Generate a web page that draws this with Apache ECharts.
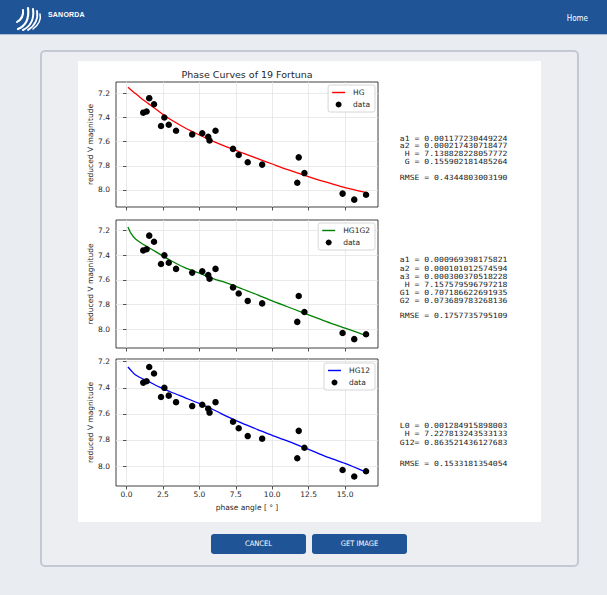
<!DOCTYPE html>
<html>
<head>
<meta charset="utf-8">
<script src="https://cdn.jsdelivr.net/npm/echarts@6.0.0/dist/echarts.min.js"></script>
<style>
  html, body { margin:0; padding:0; width:607px; height:595px; overflow:hidden; background:#e9ecf0; font-family:"DejaVu Sans", sans-serif; }
  #nav { position:absolute; left:0; top:0; width:607px; height:34px; background:#1f5597; border-bottom:1px solid #a9bcd6; }
  #brand { position:absolute; left:48px; top:11px; color:#fff; font:bold 7px "Liberation Sans", sans-serif; letter-spacing:0.2px; }
  #home { position:absolute; right:19px; top:14px; color:#fff; font:8px "DejaVu Sans Condensed", "DejaVu Sans", sans-serif; }
  #card { position:absolute; left:40px; top:50px; width:535px; height:513px; border:2px solid #c3c9d2; border-radius:5px; background:#eceef2; }
  #panel { position:absolute; left:78px; top:61px; width:463px; height:461px; background:#fff; }
  .btn { position:absolute; top:534px; height:20px; background:#1f5597; border-radius:3px; color:#fff;
         font:7.5px "DejaVu Sans Condensed", "DejaVu Sans", sans-serif; text-align:center; line-height:20px; }
  #chart { position:absolute; left:0; top:0; width:607px; height:595px; }
</style>
</head>
<body>
<div id="nav">
  <svg style="position:absolute;left:14px;top:4px" width="30" height="28" viewBox="0 0 30 28">
    <g fill="none" stroke="#fff" stroke-linecap="round">
      <path d="M4 25 Q16 20 14 4" stroke-width="2.2"/>
      <path d="M9 26 Q21 20 19 5" stroke-width="2"/>
      <path d="M14 26 Q25 19 23 7" stroke-width="1.8"/>
      <path d="M19 25 Q28 18 26 10" stroke-width="1.5"/>
      <path d="M3 18 Q10 14 9 6" stroke-width="2"/>
    </g>
  </svg>
  <div id="brand">SANORDA</div>
  <div id="home">Home</div>
</div>
<div id="card"></div>
<div id="panel"></div>
<div class="btn" style="left:211px;width:95px;">CANCEL</div>
<div class="btn" style="left:312px;width:95px;">GET IMAGE</div>
<div id="chart"></div>
<script>
// ---- data ----
const phaseAngle = [1.15, 1.38, 1.56, 1.89, 2.37, 2.60, 2.90, 3.40, 4.51, 5.20, 5.61, 5.70, 6.11, 7.31, 7.70, 8.32, 9.31, 11.72, 11.82, 12.21, 14.83, 15.63, 16.44];
const reducedMag = [7.36, 7.35, 7.24, 7.29, 7.47, 7.40, 7.46, 7.51, 7.54, 7.53, 7.56, 7.59, 7.51, 7.66, 7.71, 7.77, 7.79, 7.94, 7.73, 7.86, 8.03, 8.08, 8.04];

const hgX = [0.1, 0.5, 1, 1.5, 2, 2.5, 3, 4, 5, 6, 7, 8, 9, 10, 11, 12, 13, 14, 15, 16.4];
const hgY = [7.15, 7.19, 7.24, 7.285, 7.33, 7.375, 7.415, 7.485, 7.545, 7.60, 7.65, 7.695, 7.74, 7.785, 7.83, 7.87, 7.91, 7.945, 7.98, 8.02];

const hg1g2X = [0.1, 0.3, 0.6, 1, 1.5, 2, 3, 4, 5, 6, 7, 8, 9, 10, 11, 12, 13, 14, 15, 16.4];
const hg1g2Y = [7.17, 7.22, 7.265, 7.30, 7.335, 7.37, 7.44, 7.50, 7.545, 7.59, 7.63, 7.675, 7.72, 7.77, 7.815, 7.86, 7.905, 7.95, 7.99, 8.05];

const hg12X = [0.1, 0.3, 0.6, 1, 1.5, 2, 2.5, 3, 4, 5, 6, 7, 8, 9, 10, 11, 12, 13, 14, 15, 16.4];
const hg12Y = [7.24, 7.265, 7.30, 7.325, 7.35, 7.38, 7.405, 7.43, 7.475, 7.52, 7.57, 7.625, 7.675, 7.72, 7.765, 7.805, 7.85, 7.895, 7.94, 7.98, 8.045];

const xTicks = [0, 2.5, 5, 7.5, 10, 12.5, 15];
const yTicks = [7.2, 7.4, 7.6, 7.8, 8.0];

const modelNames = ['HG', 'HG1G2', 'HG12'];
const modelColors = ['#ff0000', '#008000', '#0000ff'];

const titleText = 'Phase Curves of 19 Fortuna';
const yName = 'reduced V magnitude';
const xName = 'phase angle [ ° ]';

const paramsHG = ['a1 = 0.001177230449224', 'a2 = 0.000217430718477', 'H = 7.138828228057772', 'G = 0.155902181485264', 'RMSE = 0.4344803003190'];
const paramsHG1G2 = ['a1 = 0.000969398175821', 'a2 = 0.000101012574594', 'a3 = 0.000300370518228', 'H = 7.157579596797218', 'G1 = 0.707186622691935', 'G2 = 0.073689783268136', 'RMSE = 0.1757735795109'];
const paramsHG12 = ['L0 = 0.001284915898003', 'H = 7.227813243533133', 'G12= 0.863521436127683', 'RMSE = 0.1533181354054'];

// ---- layout ----
const grids = [
  { left: 116, top: 82, width: 262, height: 125 },
  { left: 116, top: 220, width: 262, height: 128 },
  { left: 116, top: 359, width: 262, height: 127 }
];
const yRanges = [[7.106, 8.141], [7.113, 8.152], [7.179, 8.153]];
const xRange = [-0.72, 17.26];
const curves = [[hgX, hgY], [hg1g2X, hg1g2Y], [hg12X, hg12Y]];
const legendTops = [85, 223, 363];
const paramBlocks = [
  { lines: paramsHG, ys: [138.3, 146, 154, 161.7, 177.3] },
  { lines: paramsHG1G2, ys: [260, 268.2, 276.2, 284.2, 292.2, 300.2, 315.7] },
  { lines: paramsHG12, ys: [426, 434, 442.3, 463.3] }
];

const tickFont = 7.5;
const darkText = '#262626';

const option = {
  animation: false,
  grid: grids.map(g => Object.assign({ show: true, borderColor: '#2b2b2b', borderWidth: 0.9, backgroundColor: 'transparent', containLabel: false }, g)),
  xAxis: grids.map((g, i) => ({
    type: 'value', gridIndex: i, min: xRange[0], max: xRange[1],
    axisLine: { show: false },
    axisTick: { show: true, length: 3.5, lineStyle: { color: '#2b2b2b', width: 0.8 }, customValues: xTicks },
    axisLabel: { show: i === 2, customValues: xTicks, formatter: v => v.toFixed(1), fontSize: tickFont, color: darkText, margin: 4, fontFamily: 'DejaVu Sans' },
    splitLine: { show: true, lineStyle: { color: '#e4e4e4', width: 0.8 } },
    name: i === 2 ? xName : '', nameLocation: 'middle', nameGap: 17,
    nameTextStyle: { fontSize: 7.5, color: darkText, fontFamily: 'DejaVu Sans' }
  })),
  yAxis: grids.map((g, i) => ({
    type: 'value', gridIndex: i, inverse: true, min: yRanges[i][0], max: yRanges[i][1],
    axisLine: { show: false },
    axisTick: { show: true, length: 3.5, lineStyle: { color: '#2b2b2b', width: 0.8 }, customValues: yTicks },
    axisLabel: { customValues: yTicks, formatter: v => v.toFixed(1), fontSize: tickFont, color: darkText, margin: 6, fontFamily: 'DejaVu Sans' },
    splitLine: { show: true, lineStyle: { color: '#e4e4e4', width: 0.8 } },
    name: yName, nameLocation: 'middle', nameGap: 21, nameRotate: 90,
    nameTextStyle: { fontSize: 7.5, color: darkText, fontFamily: 'DejaVu Sans' }
  })),
  legend: grids.map((g, i) => ({
    orient: 'vertical', right: 607 - 375, top: legendTops[i],
    data: [
      { name: modelNames[i], icon: 'path://M0,0L20,0L20,2.2L0,2.2Z' },
      { name: 'data', icon: 'circle' }
    ],
    itemWidth: 13, itemHeight: 6, itemGap: 3,
    padding: [3, 5, 3, 4],
    borderColor: '#cccccc', borderWidth: 0.8, borderRadius: 2,
    backgroundColor: 'rgba(255,255,255,0.85)',
    selectedMode: false,
    textStyle: { fontSize: 7.5, color: darkText, fontFamily: 'DejaVu Sans', lineHeight: 9, padding: [0, 0, 0, 3] }
  })),
  series: [],
  graphic: []
};

grids.forEach((g, i) => {
  option.series.push({
    name: modelNames[i], type: 'line', xAxisIndex: i, yAxisIndex: i,
    data: curves[i][0].map((x, k) => [x, curves[i][1][k]]),
    symbol: 'none', smooth: 0.25, z: 3,
    itemStyle: { color: modelColors[i] },
    lineStyle: { color: modelColors[i], width: 1.3 }
  });
  option.series.push({
    name: 'data', type: 'scatter', xAxisIndex: i, yAxisIndex: i,
    data: phaseAngle.map((x, k) => [x, reducedMag[k]]),
    symbol: 'circle', symbolSize: 6.5, z: 4,
    itemStyle: { color: '#000000', opacity: 1 }
  });
});

option.graphic.push({
  type: 'text', x: 247, y: 74,
  style: { text: titleText, fontSize: 9.5, fontFamily: 'DejaVu Sans', fill: darkText, textAlign: 'center', textVerticalAlign: 'middle' }
});
paramBlocks.forEach(b => {
  b.lines.forEach((t, k) => {
    option.graphic.push({
      type: 'text', x: 507.5, y: b.ys[k], scaleX: 1.13,
      style: { text: t, fontSize: 7.2, fontFamily: 'DejaVu Sans Mono', fill: '#1a1a1a', textAlign: 'right', textVerticalAlign: 'middle' }
    });
  });
});

const chart = echarts.init(document.getElementById('chart'), null, { renderer: 'svg', width: 607, height: 595 });
chart.setOption(option);
</script>
</body>
</html>
